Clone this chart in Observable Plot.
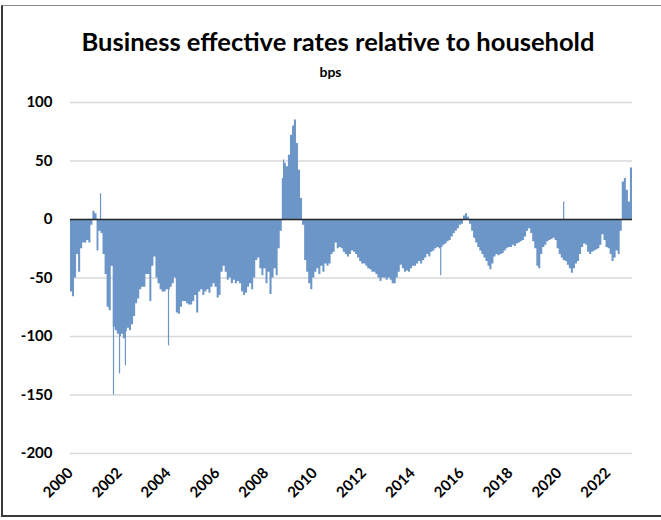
<!DOCTYPE html>
<html>
<head>
<meta charset="utf-8">
<script src="https://cdn.jsdelivr.net/npm/d3@7"></script>
<script src="https://cdn.jsdelivr.net/npm/@observablehq/plot@0.6"></script>
<style>
  body { margin: 0; background: #fff; width: 661px; height: 520px; position: relative; overflow: hidden; font-family: Lato, sans-serif; }
  #frame { position: absolute; left: 1px; top: 5px; width: 672px; height: 512px; border: 2px solid #3a3a3a; border-top: 1px solid #8a8a8a; box-sizing: border-box; pointer-events: none; }
  #title { position: absolute; left: 0; width: 676px; top: 26px; text-align: center; font-weight: bold; font-size: 25.5px; color: #000; line-height: 30px; }
  #subtitle { position: absolute; left: 0; width: 661px; top: 63px; text-align: center; font-weight: bold; font-size: 14px; color: #000; line-height: 18px; }
  #chart { position: absolute; left: 0; top: 85px; }
</style>
</head>
<body>
<div id="title">Business effective rates relative to household</div>
<div id="subtitle">bps</div>
<div id="chart"></div>
<div id="frame"></div>
<script>
// Monthly values (bps), Jan..Dec
const v2000 = [-62, -66, -50, -30, -45, -25, -20, -20, -18, -20, -5, 7];
const v2001 = [5, -27, -10, -12, -30, -47, -75, -78, -40, -92, -95, -98];
const v2002 = [-100, -98, -102, -96, -93, -95, -90, -83, -72, -68, -60, -58];
const v2003 = [-58, -47, -47, -70, -40, -32, -50, -55, -60, -62, -62, -60];
const v2004 = [-60, -58, -55, -50, -80, -81, -75, -70, -70, -72, -73, -73];
const v2005 = [-70, -65, -80, -62, -60, -65, -62, -60, -63, -58, -55, -58];
const v2006 = [-67, -65, -45, -40, -45, -52, -50, -55, -52, -55, -53, -55];
const v2007 = [-62, -65, -63, -58, -55, -60, -50, -35, -33, -42, -48, -42];
const v2008 = [-55, -45, -64, -50, -42, -48, -25, -10, 35, 48, 45, 55];
const v2009 = [72, 80, 85, 65, 42, 18, -5, -35, -45, -55, -60, -50];
const v2010 = [-45, -42, -47, -40, -45, -38, -40, -38, -30, -28, -20, -25];
const v2011 = [-24, -25, -28, -30, -32, -30, -27, -28, -30, -33, -36, -38];
const v2012 = [-38, -40, -42, -43, -45, -45, -47, -50, -53, -50, -50, -52];
const v2013 = [-50, -52, -55, -55, -50, -45, -39, -42, -45, -44, -45, -42];
const v2014 = [-40, -40, -38, -36, -38, -35, -33, -30, -32, -28, -27, -25];
const v2015 = [-24, -25, -24, -22, -21, -19, -18, -15, -12, -10, -8, -5];
const v2016 = [-4, 3, 5, 2, -4, -10, -16, -20, -24, -27, -30, -33];
const v2017 = [-36, -40, -43, -38, -32, -30, -31, -30, -29, -27, -25, -24];
const v2018 = [-24, -22, -23, -21, -20, -19, -18, -15, -10, -8, -12, -19];
const v2019 = [-25, -40, -42, -30, -24, -22, -19, -18, -17, -16, -18, -25];
const v2020 = [-30, -33, -35, -36, -39, -42, -46, -42, -38, -36, -30, -24];
const v2021 = [-21, -22, -28, -30, -28, -27, -26, -25, -22, -13, -18, -24];
const v2022 = [-25, -30, -36, -33, -27, -30, -10, 32, 35, 25, 15, 44];
const years = [2000, 2001, 2002, 2003, 2004, 2005, 2006, 2007, 2008, 2009, 2010, 2011,
               2012, 2013, 2014, 2015, 2016, 2017, 2018, 2019, 2020, 2021, 2022];
const yearValues = [v2000, v2001, v2002, v2003, v2004, v2005, v2006, v2007, v2008, v2009, v2010, v2011,
                    v2012, v2013, v2014, v2015, v2016, v2017, v2018, v2019, v2020, v2021, v2022];

// Short-lived spikes
const spikeDates = ["2001-03-25", "2001-10-05", "2002-01-03", "2002-04-01", "2004-01-05", "2008-09-20", "2015-02-25", "2020-03-08"];
const spikeValues = [22, -150, -132, -125, -108, 51, -48, 15];

const yTicks = [-200, -150, -100, -50, 0, 50, 100];
const xTickLabels = ["2000", "2002", "2004", "2006", "2008", "2010", "2012", "2014", "2016", "2018", "2020", "2022"];

const blue = "#6d96c8";

const series = [];
years.forEach((yr, i) => {
  yearValues[i].forEach((v, m) => series.push({date: new Date(Date.UTC(yr, m, 1)), value: v}));
});
// close the last step
series.push({date: new Date(Date.UTC(2023, 0, 1)), value: series[series.length - 1].value});

const spikes = spikeDates.map((d, i) => ({date: new Date(d + "T00:00:00Z"), value: spikeValues[i]}));
const xTicks = xTickLabels.map(s => new Date(Date.UTC(+s, 0, 1)));

const chart = Plot.plot({
  width: 661,
  height: 430,
  marginLeft: 70,
  marginRight: 29,
  marginTop: 17,
  marginBottom: 62,
  style: {fontFamily: "Lato, sans-serif", fontSize: "15px", fontWeight: "bold", color: "#000", background: "transparent", overflow: "visible"},
  x: {type: "utc", domain: [new Date(Date.UTC(2000, 0, 1)), new Date(Date.UTC(2023, 0, 1))], label: null},
  y: {domain: [-200, 100], label: null},
  marks: [
    Plot.gridY(yTicks, {stroke: "#d9d9d9", strokeOpacity: 1, strokeWidth: 1.5}),
    Plot.areaY(series, {x: "date", y: "value", curve: "step-after", fill: blue}),
    Plot.ruleX(spikes, {x: "date", y1: 0, y2: "value", stroke: blue, strokeWidth: 1.2}),
    Plot.ruleY([0], {stroke: "#262626", strokeWidth: 1.6}),
    Plot.axisY(yTicks, {tickSize: 0, tickPadding: 18, tickFormat: d => String(d), fontWeight: "bold", fontSize: 15, fill: "#000", label: null}),
    Plot.axisX(xTicks, {tickSize: 0, tickPadding: 17, tickRotate: -45, tickFormat: d => String(d.getUTCFullYear()), fontWeight: "bold", fontSize: 15, fill: "#000", label: null})
  ]
});
document.getElementById("chart").appendChild(chart);
</script>
</body>
</html>
